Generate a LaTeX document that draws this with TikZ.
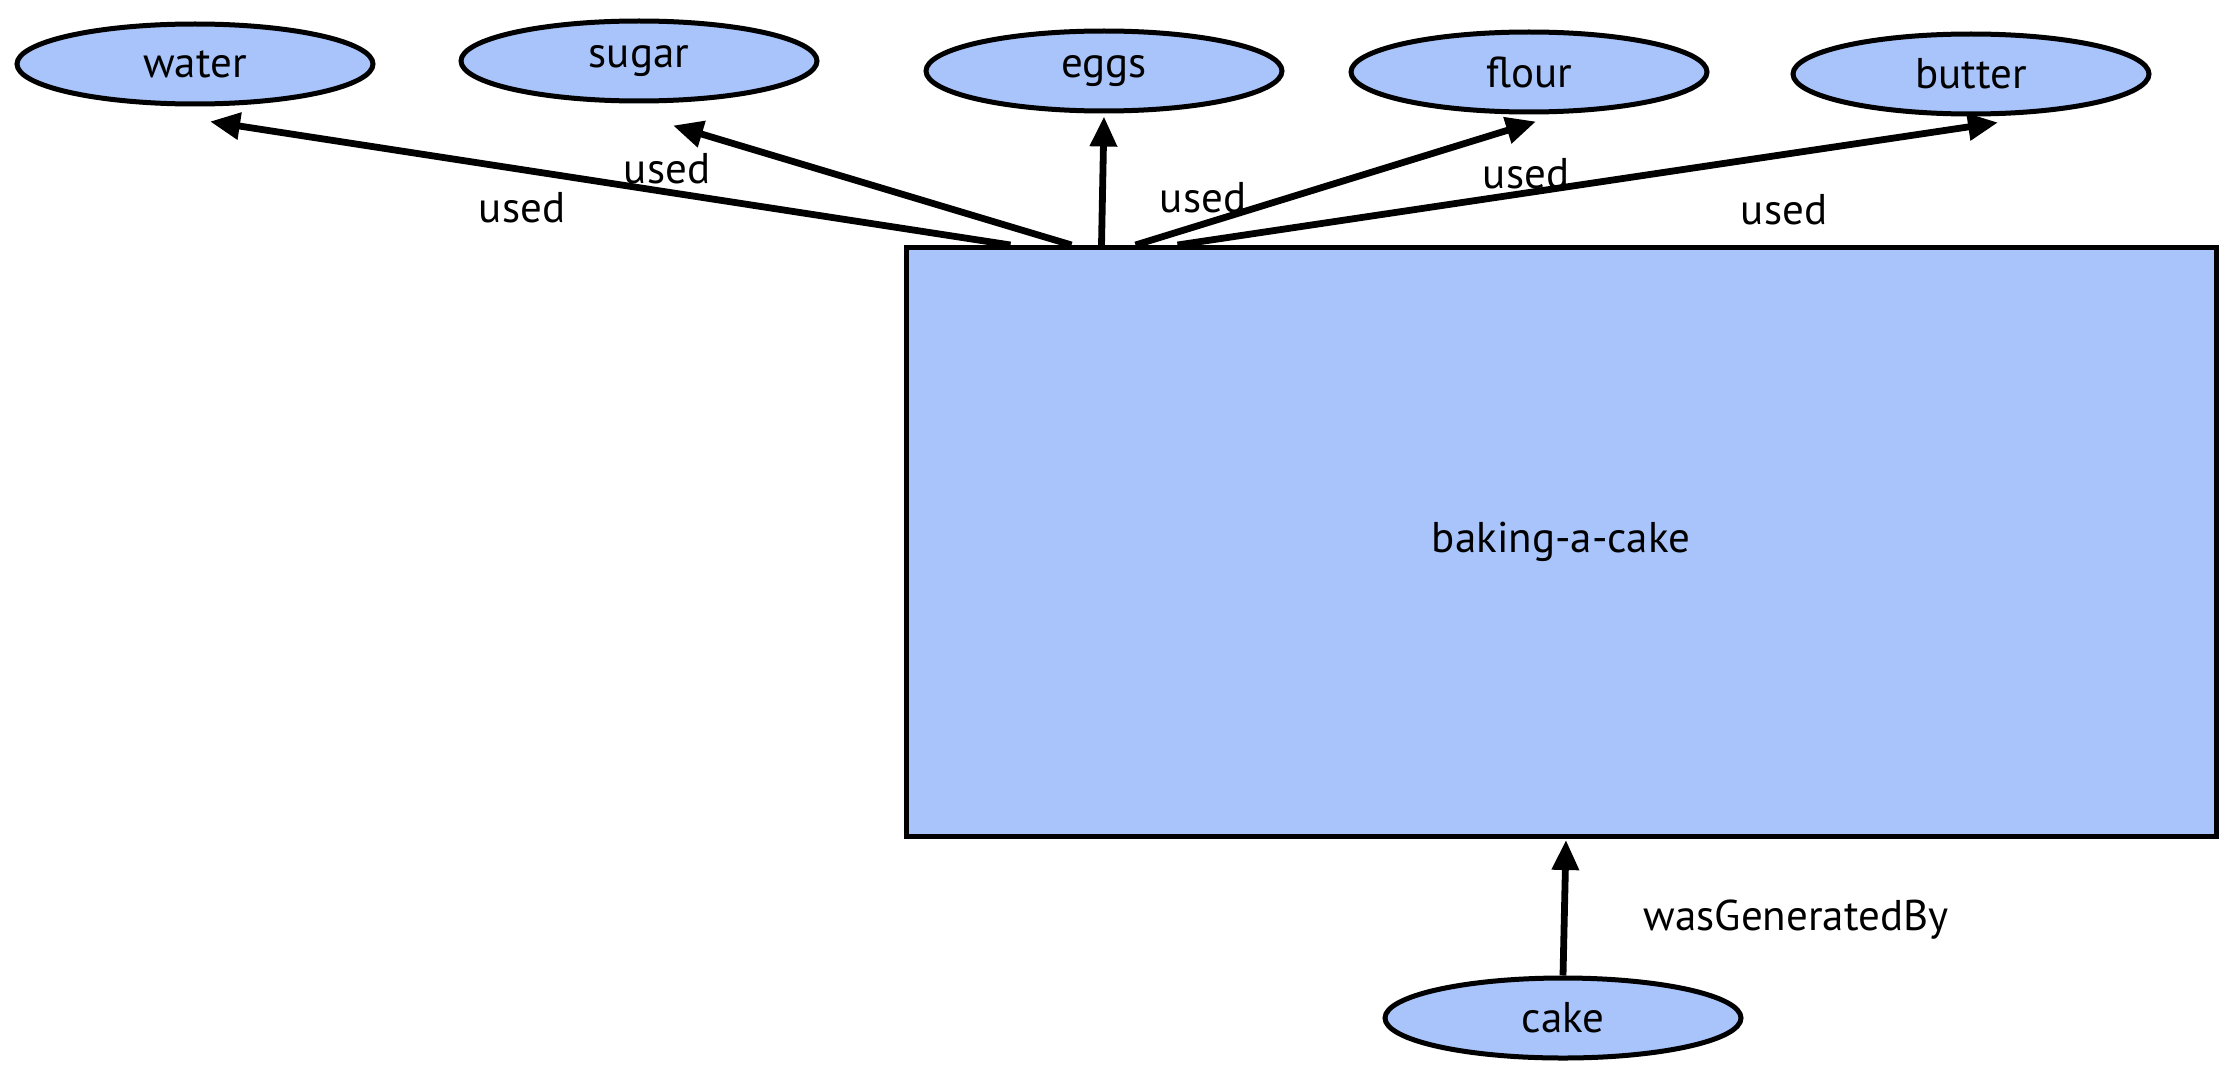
\documentclass[tikz,border=0pt]{standalone}
\usepackage{fontspec}
\setmainfont{PT Sans}
\usetikzlibrary{calc,shapes.geometric,arrows.meta}
\definecolor{provblue}{RGB}{168,196,250}
\begin{document}
\begin{tikzpicture}[x=0.5pt,y=-0.5pt,
  lbl/.style={font=\fontsize{21.5}{25}\selectfont, inner sep=0pt},
  entity/.style={ellipse, draw, line width=2.5pt, fill=provblue,
    minimum width=178pt, minimum height=40pt, inner sep=0pt, lbl},
  process/.style={rectangle, draw, line width=2.5pt, fill=provblue,
    minimum width=655pt, minimum height=294.5pt, inner sep=0pt, lbl},
  rel/.style={line width=3.4pt, -{Triangle[length=15pt,width=13pt]}},
]
\useasboundingbox (0,0) rectangle (2230,1065);

% entities
\node[entity] (water)  at (195,64)  {water};
\node[entity] (sugar)  at (639,61)  {sugar};
\node[entity] (eggs)   at (1104,71) {eggs};
\node[entity] (flour)  at (1529,72) {flour};
\node[entity] (butter) at (1971,74) {butter};
\node[entity] (cake)   at (1563,1018) {cake};

% the process
\node[process] (bake) at (1561,542) {baking-a-cake};

% where the edges leave the process
\coordinate (uWater)  at ($(bake.north west)+(107,0)$);
\coordinate (uSugar)  at ($(bake.north west)+(168,0)$);
\coordinate (uEggs)   at ($(bake.north west)+(198,0)$);
\coordinate (uFlour)  at ($(bake.north west)+(232,0)$);
\coordinate (uButter) at ($(bake.north west)+(274,0)$);

% where the arrow tips land, just under each entity
\coordinate (tWater)  at ($(water.south)+(15,15)$);
\coordinate (tSugar)  at ($(sugar.south)+(34,22)$);
\coordinate (tEggs)   at ($(eggs.south)+(0,3)$);
\coordinate (tFlour)  at ($(flour.south)+(7,7)$);
\coordinate (tButter) at ($(butter.south)+(27,6)$);
\coordinate (tBake)   at ($(bake.south)+(5,1)$);

\draw[rel] (uWater)  -- (tWater);
\draw[rel] (uSugar)  -- (tSugar);
\draw[rel] (uEggs)   -- (tEggs);
\draw[rel] (uFlour)  -- (tFlour);
\draw[rel] (uButter) -- (tButter);
\draw[rel] (cake.north) -- (tBake);

% edge labels
\node[lbl] (l1) at (522,208)  {used};
\node[lbl] (l2) at (667,169)  {used};
\node[lbl] (l3) at (1203,198) {used};
\node[lbl] (l4) at (1526,174) {used};
\node[lbl] (l5) at (1784,210) {used};
\node[lbl] (l6) at (1796,920) {wasGeneratedBy};
\end{tikzpicture}
\end{document}
